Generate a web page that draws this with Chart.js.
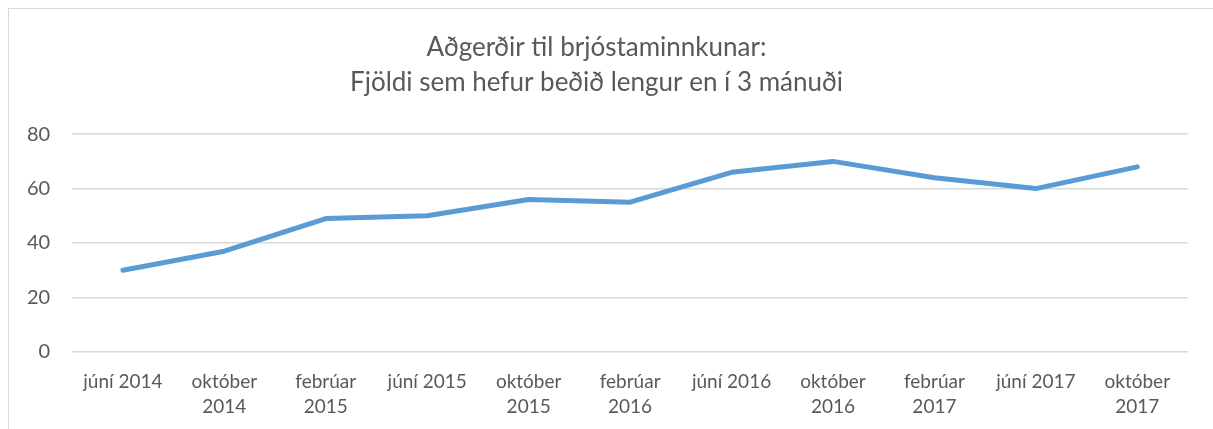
<!DOCTYPE html>
<html>
<head>
<meta charset="utf-8">
<script src="https://cdn.jsdelivr.net/npm/chart.js@4.4.0/dist/chart.umd.min.js"></script>
<style>
    html, body { margin: 0; padding: 0; background: #fff; overflow: hidden; }
    #frame {
        position: absolute; left: 8px; top: 8px; width: 1220px; height: 440px;
        border: 1px solid #d9d9d9; box-sizing: border-box;
    }
    #wrap { position: absolute; left: 0; top: 0; width: 1213px; height: 439px; }
</style>
</head>
<body>
<div id="frame"></div>
<div id="wrap"><canvas id="chart"></canvas></div>
<script>
const categories = [
    'júní 2014', ['október', '2014'], ['febrúar', '2015'], 'júní 2015',
    ['október', '2015'], ['febrúar', '2016'], 'júní 2016', ['október', '2016'],
    ['febrúar', '2017'], 'júní 2017', ['október', '2017']
];
const waiting = [30, 37, 49, 50, 56, 55, 66, 70, 64, 60, 68];
const yTicks = [0, 20, 40, 60, 80];
const titleLines = ['Aðgerðir til brjóstaminnkunar:', 'Fjöldi sem hefur beðið lengur en í 3 mánuði'];

document.addEventListener('DOMContentLoaded', function () {
    const ctx = document.getElementById('chart').getContext('2d');
    new Chart(ctx, {
        type: 'line',
        data: {
            labels: categories,
            datasets: [{
                data: waiting,
                borderColor: '#5B9BD5',
                borderWidth: 5,
                pointRadius: 0,
                tension: 0,
                fill: false,
                borderCapStyle: 'round',
                borderJoinStyle: 'round'
            }]
        },
        options: {
            responsive: true,
            maintainAspectRatio: false,
            animation: false,
            layout: { padding: { left: 5, right: 25, top: 0, bottom: 11 } },
            plugins: {
                legend: { display: false },
                tooltip: { enabled: false },
                title: {
                    display: true,
                    text: titleLines,
                    color: '#595959',
                    font: { family: 'Lato', size: 26, weight: 'normal', lineHeight: 1.35 },
                    padding: { top: 30, bottom: 34 }
                }
            },
            scales: {
                x: {
                    offset: true,
                    grid: { display: false },
                    border: { display: false },
                    ticks: {
                        color: '#595959',
                        font: { family: 'Lato', size: 19, lineHeight: 1.32 },
                        autoSkip: false,
                        maxRotation: 0,
                        padding: 9
                    }
                },
                y: {
                    min: 0,
                    max: 80,
                    afterBuildTicks: (axis) => { axis.ticks = yTicks.map(v => ({ value: v })); },
                    grid: { color: '#d9d9d9', lineWidth: 1.5, drawTicks: false },
                    border: { display: false },
                    ticks: {
                        color: '#595959',
                        font: { family: 'Lato', size: 20 },
                        padding: 22
                    }
                }
            }
        }
    });
});
</script>
</body>
</html>
